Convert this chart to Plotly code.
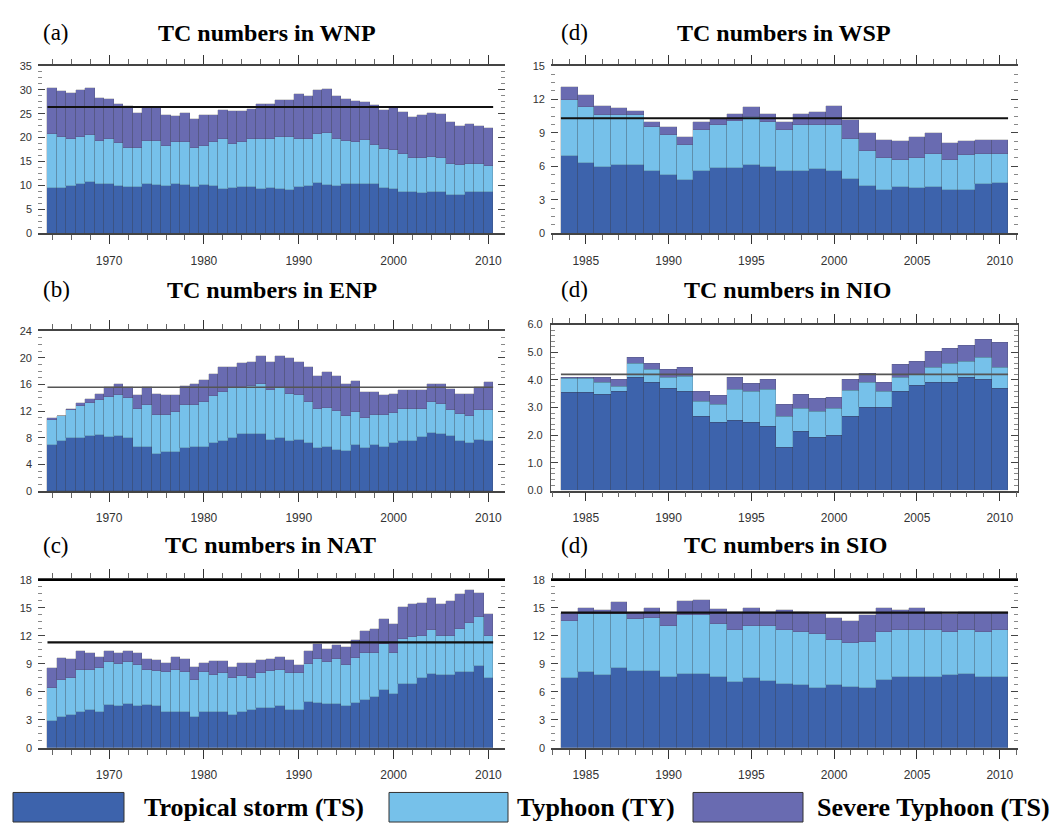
import plotly.graph_objects as go

# ---------------------------------------------------------------- data
years_long = list(range(1964, 2011))    # WNP, ENP, NAT
years_short = list(range(1984, 2011))   # WSP, NIO, SIO

# Western North Pacific
wnp_ts = [9.6, 9.6, 10.0, 10.4, 10.7, 10.3, 10.3, 10.0, 9.7, 9.8,
          10.3, 10.2, 10.0, 10.3, 10.1, 9.7, 10.2, 10.0, 9.3, 9.5,
          9.7, 9.8, 9.3, 9.5, 9.3, 9.2, 9.7, 10.0, 10.6, 10.2,
          10.0, 10.3, 10.3, 10.3, 10.3, 9.5, 9.4, 8.7, 8.7, 8.4,
          8.6, 8.6, 8.0, 8.0, 8.6, 8.6, 8.6]
wnp_ty = [11.3, 10.6, 9.8, 9.8, 9.9, 9.1, 9.5, 9.0, 8.1, 8.0,
          9.1, 9.2, 8.2, 8.9, 9.1, 8.1, 8.1, 9.2, 10.5, 9.2,
          9.5, 10.0, 10.5, 10.3, 10.9, 11.0, 10.1, 9.8, 10.1, 10.8,
          9.7, 9.1, 8.9, 9.2, 8.2, 8.1, 8.0, 7.9, 7.1, 7.4,
          7.3, 7.2, 6.6, 6.3, 6.0, 6.0, 5.6]
wnp_sty = [9.6, 9.6, 9.5, 9.8, 9.9, 9.0, 8.3, 8.0, 8.8, 7.4,
           7.0, 6.8, 6.6, 5.3, 6.0, 6.2, 6.5, 5.6, 6.1, 7.0,
           6.5, 6.3, 7.2, 7.2, 7.7, 7.7, 9.3, 9.0, 9.3, 9.3,
           9.1, 8.7, 8.4, 7.9, 8.3, 8.3, 8.8, 8.8, 8.5, 8.9,
           9.3, 9.2, 8.7, 8.1, 8.3, 7.8, 7.9]

# Eastern North Pacific
enp_ts = [6.9, 7.5, 8.0, 8.0, 8.2, 8.4, 8.1, 8.3, 7.9, 6.6,
          6.6, 5.5, 5.8, 5.9, 6.4, 6.6, 6.6, 7.2, 7.5, 8.0,
          8.5, 8.6, 8.6, 7.7, 8.0, 7.5, 7.7, 7.2, 6.5, 6.6,
          6.1, 6.0, 6.9, 6.5, 6.9, 6.6, 7.2, 7.5, 7.5, 8.1,
          8.7, 8.6, 8.2, 7.5, 7.2, 7.7, 7.5]
enp_ty = [3.8, 3.7, 4.1, 4.8, 5.0, 5.3, 6.0, 6.1, 6.0, 5.7,
          6.3, 5.9, 5.6, 5.9, 6.5, 6.3, 6.8, 7.0, 7.4, 7.4,
          7.0, 7.1, 7.4, 7.5, 7.5, 7.1, 6.7, 6.2, 5.8, 5.9,
          5.9, 5.3, 4.9, 4.4, 4.5, 4.8, 4.5, 4.8, 4.8, 4.2,
          4.6, 4.4, 3.9, 4.0, 4.1, 4.5, 4.7]
enp_sty = [0.2, 0.1, 0.2, 0.4, 0.6, 0.9, 1.5, 1.6, 1.7, 2.1,
           2.7, 3.2, 3.0, 2.6, 2.8, 3.1, 3.2, 3.4, 3.7, 3.2,
           3.7, 3.7, 4.2, 4.1, 4.7, 5.4, 4.9, 5.2, 5.0, 5.4,
           5.3, 4.7, 4.7, 4.0, 3.5, 3.0, 2.9, 2.8, 2.8, 2.8,
           2.7, 3.0, 3.2, 3.0, 3.3, 3.4, 4.1]

# North Atlantic
nat_ts = [2.9, 3.3, 3.5, 3.9, 4.1, 3.9, 4.6, 4.5, 4.7, 4.5,
          4.6, 4.5, 3.9, 3.9, 3.9, 3.3, 3.9, 3.8, 3.8, 3.5,
          3.9, 4.1, 4.3, 4.3, 4.5, 4.1, 4.1, 4.9, 4.8, 4.7,
          4.7, 4.5, 4.8, 5.1, 5.5, 6.2, 5.8, 6.9, 6.9, 7.5,
          7.9, 7.8, 7.8, 8.1, 8.1, 8.8, 7.5]
nat_ty = [3.5, 4.0, 4.0, 4.5, 4.3, 4.7, 4.6, 4.5, 4.5, 4.4,
          3.8, 3.7, 4.2, 4.5, 4.2, 4.0, 4.2, 4.0, 4.2, 4.0,
          3.8, 3.4, 3.7, 3.9, 3.9, 3.9, 3.9, 4.1, 4.7, 4.5,
          4.8, 4.4, 4.8, 5.1, 4.7, 4.9, 4.4, 4.8, 5.0, 4.5,
          4.7, 4.2, 4.2, 4.6, 5.3, 5.2, 4.5]
nat_sty = [2.2, 2.3, 2.0, 2.0, 1.8, 1.2, 1.2, 1.2, 1.2, 1.3,
           1.1, 1.2, 1.0, 1.4, 1.4, 1.4, 1.0, 1.5, 1.3, 1.2,
           1.4, 1.6, 1.4, 1.3, 1.4, 1.4, 0.9, 1.4, 1.6, 1.4,
           1.5, 1.9, 2.0, 2.3, 2.6, 2.7, 3.1, 3.4, 3.5, 3.5,
           3.5, 3.4, 3.7, 3.8, 3.5, 2.6, 2.4]

# Western South Pacific
wsp_ts = [6.9, 6.3, 6.0, 6.1, 6.1, 5.6, 5.2, 4.8, 5.6, 5.9,
          5.9, 6.1, 6.0, 5.6, 5.6, 5.8, 5.6, 4.9, 4.3, 3.9,
          4.2, 4.1, 4.2, 3.9, 3.9, 4.4, 4.5]
wsp_ty = [5.1, 5.0, 4.6, 4.5, 4.5, 3.9, 3.6, 3.1, 3.7, 3.8,
          4.2, 4.3, 4.0, 3.7, 4.1, 3.9, 4.1, 3.6, 3.1, 2.9,
          2.4, 2.7, 2.9, 2.7, 3.1, 2.7, 2.6]
wsp_sty = [1.1, 1.1, 0.8, 0.6, 0.4, 0.5, 0.7, 0.7, 0.7, 0.6,
           0.6, 0.9, 0.7, 0.7, 1.0, 1.2, 1.7, 1.7, 1.6, 1.6,
           1.7, 1.8, 1.9, 1.5, 1.3, 1.3, 1.3]

# North Indian Ocean
nio_ts = [3.54, 3.54, 3.47, 3.56, 4.10, 3.90, 3.68, 3.56, 2.67, 2.47,
          2.53, 2.47, 2.32, 1.57, 2.14, 1.92, 2.00, 2.67, 2.99, 2.99,
          3.56, 3.80, 3.90, 3.90, 4.10, 4.01, 3.68]
nio_ty = [0.50, 0.50, 0.45, 0.20, 0.50, 0.46, 0.39, 0.57, 0.54, 0.62,
          1.12, 1.09, 1.33, 1.10, 0.83, 0.95, 0.97, 0.95, 0.91, 0.57,
          0.54, 0.38, 0.55, 0.70, 0.56, 0.78, 0.77]
nio_sty = [0.06, 0.06, 0.18, 0.25, 0.19, 0.24, 0.32, 0.32, 0.35, 0.35,
           0.45, 0.32, 0.36, 0.45, 0.50, 0.46, 0.38, 0.39, 0.32, 0.34,
           0.47, 0.48, 0.56, 0.53, 0.59, 0.67, 0.89]

# South Indian Ocean
sio_ts = [7.5, 8.1, 7.8, 8.6, 8.3, 8.3, 7.6, 7.9, 7.9, 7.6,
          7.1, 7.5, 7.2, 6.8, 6.7, 6.4, 6.7, 6.5, 6.4, 7.3,
          7.6, 7.6, 7.6, 7.8, 7.9, 7.6, 7.6]
sio_ty = [6.1, 6.3, 6.6, 5.8, 5.5, 5.6, 5.5, 6.4, 6.4, 5.7,
          5.5, 5.6, 5.9, 5.8, 5.7, 5.8, 4.9, 4.8, 5.0, 5.1,
          5.0, 5.0, 5.0, 4.6, 4.7, 4.8, 5.0]
sio_sty = [0.9, 0.6, 0.4, 1.2, 0.7, 1.1, 1.3, 1.5, 1.6, 1.6,
           2.0, 1.9, 1.5, 2.2, 2.2, 2.2, 2.3, 2.3, 2.8, 2.6,
           2.2, 2.4, 2.0, 2.0, 2.0, 2.2, 2.0]

# climatological mean of the annual total, per basin
basin_mean = {"WNP": 26.4, "ENP": 15.6, "NAT": 11.3,
              "WSP": 10.3, "NIO": 4.2, "SIO": 14.5}

category_names = ["Tropical storm (TS)", "Typhoon (TY)", "Severe Typhoon (TS)"]

# ---------------------------------------------------------------- styling
W, H = 1056, 830
COLORS = ["#3D63AC", "#76C1EA", "#696BB1"]
SERIF = "Liberation Serif"
SANS = "Liberation Sans"

def px_x(p):
    return p / W

def px_y(p):
    return 1 - p / H

left_dom = [px_x(38), px_x(505)]
right_dom = [px_x(551), px_x(1018)]

panels = [
    dict(tag="(a)", basin="WNP", years=years_long, data=(wnp_ts, wnp_ty, wnp_sty),
         xdom=left_dom, ydom=[px_y(230.7), px_y(60.7)], yr=[0, 35], dy=5, mdy=1.25,
         fmt="d", top="gray", mean_col="#111111", mean_w=2.2,
         title_x=267, title_y=27, tag_x=56),
    dict(tag="(d)", basin="WSP", years=years_short, data=(wsp_ts, wsp_ty, wsp_sty),
         xdom=right_dom, ydom=[px_y(230.7), px_y(60.7)], yr=[0, 15], dy=3, mdy=0.75,
         fmt="d", top="gray", mean_col="#111111", mean_w=2.0,
         title_x=784, title_y=27, tag_x=574),
    dict(tag="(b)", basin="ENP", years=years_long, data=(enp_ts, enp_ty, enp_sty),
         xdom=left_dom, ydom=[px_y(492.3), px_y(330)], yr=[0, 24], dy=4, mdy=1,
         fmt="d", top=None, mean_col="#555555", mean_w=1.6,
         title_x=272, title_y=288, tag_x=56),
    dict(tag="(d)", basin="NIO", years=years_short, data=(nio_ts, nio_ty, nio_sty),
         xdom=right_dom, ydom=[px_y(491.7), px_y(323.3)], yr=[0, 6], dy=1, mdy=0.2,
         fmt=".1f", top=None, mean_col="#555555", mean_w=1.6,
         title_x=787, title_y=288, tag_x=574),
    dict(tag="(c)", basin="NAT", years=years_long, data=(nat_ts, nat_ty, nat_sty),
         xdom=left_dom, ydom=[px_y(752.7), px_y(582.3)], yr=[0, 18], dy=3, mdy=0.75,
         fmt="d", top="black", mean_col="#111111", mean_w=2.2,
         title_x=270, title_y=547, tag_x=56),
    dict(tag="(d)", basin="SIO", years=years_short, data=(sio_ts, sio_ty, sio_sty),
         xdom=right_dom, ydom=[px_y(752.7), px_y(582.3)], yr=[0, 18], dy=3, mdy=0.75,
         fmt="d", top="black", mean_col="#111111", mean_w=2.2,
         title_x=785, title_y=547, tag_x=574),
]

fig = go.Figure()
layout = dict(
    width=W, height=H, margin=dict(l=0, r=0, t=0, b=0),
    paper_bgcolor="white", plot_bgcolor="white",
    barmode="stack", bargap=0, showlegend=False,
    annotations=[], shapes=[],
)

for i, p in enumerate(panels, start=1):
    xa = "x" if i == 1 else f"x{i}"
    ya = "y" if i == 1 else f"y{i}"
    yrs = p["years"]
    for vals, col, name in zip(p["data"], COLORS, category_names):
        fig.add_trace(go.Bar(
            x=yrs, y=vals, name=name, xaxis=xa, yaxis=ya, width=1,
            marker=dict(color=col, line=dict(width=0.6, color="rgba(55,55,60,0.33)")),
            showlegend=False,
        ))
    # basin mean across the bar span
    m = basin_mean[p["basin"]]
    fig.add_trace(go.Scatter(
        x=[yrs[0] - 0.5, yrs[-1] + 0.5], y=[m, m], mode="lines",
        line=dict(color=p["mean_col"], width=p["mean_w"]),
        xaxis=xa, yaxis=ya, showlegend=False, hoverinfo="skip",
    ))

    long = yrs[0] < 1980
    xr = [1962.5, 2011.75] if long else [1982.9, 2011.1]
    xticks = [1970, 1980, 1990, 2000, 2010] if long else [1985, 1990, 1995, 2000, 2005, 2010]
    xkey = "xaxis" if i == 1 else f"xaxis{i}"
    ykey = "yaxis" if i == 1 else f"yaxis{i}"
    layout[xkey] = dict(
        domain=p["xdom"], anchor=ya, range=xr, tickvals=xticks,
        ticks="outside", ticklen=9, tickwidth=1.3, tickcolor="#333333",
        minor=dict(dtick=2 if long else 1, tick0=1964 if long else 1984,
                   ticks="outside", ticklen=5, tickcolor="#666666", tickwidth=1),
        showline=True, linecolor="#444444", linewidth=1.5,
        mirror=("allticks" if p["top"] == "gray" else "ticks"),
        showgrid=False, zeroline=False,
        tickfont=dict(family=SANS, size=12, color="#333333"),
        ticklabelstandoff=6,
    )
    layout[ykey] = dict(
        domain=p["ydom"], anchor=xa, range=p["yr"], dtick=p["dy"], tick0=0,
        tickformat=p["fmt"], ticks="inside", ticklen=7, tickwidth=1.2,
        tickcolor="#444444", mirror="ticks",
        minor=dict(dtick=p["mdy"], ticks="inside", ticklen=4, tickcolor="#888888"),
        showline=(p["basin"] == "NIO"), linecolor="#555555", linewidth=1.2,
        showgrid=False, zeroline=False,
        tickfont=dict(family=SANS, size=11, color="#333333"),
        ticklabelstandoff=5,
    )
    if p["top"] == "black":
        layout["shapes"].append(dict(
            type="line", xref=f"{xa} domain", yref=f"{ya} domain",
            x0=0, x1=1, y0=1, y1=1, line=dict(color="black", width=2),
        ))

    layout["annotations"].append(dict(
        text=f"<b>TC numbers in {p['basin']}</b>", xref="paper", yref="paper",
        x=px_x(p["title_x"]), y=px_y(p["title_y"]), xanchor="center", yanchor="middle",
        showarrow=False, font=dict(family=SERIF, size=24, color="black"),
    ))
    layout["annotations"].append(dict(
        text=p["tag"], xref="paper", yref="paper",
        x=px_x(p["tag_x"]), y=px_y(p["title_y"]), xanchor="center", yanchor="middle",
        showarrow=False, font=dict(family=SERIF, size=23, color="black"),
    ))

# legend row: colour swatches with labels
legend_boxes = [(13, 124, 142), (389, 508, 515), (693, 803, 815)]
for (x0, x1, tx), col, name in zip(legend_boxes, COLORS, category_names):
    layout["shapes"].append(dict(
        type="rect", xref="paper", yref="paper",
        x0=px_x(x0), x1=px_x(x1), y0=px_y(828), y1=px_y(798),
        fillcolor=col, line=dict(color="#333333", width=1),
    ))
    layout["annotations"].append(dict(
        text=f"<b>{name}</b>", xref="paper", yref="paper",
        x=px_x(tx), y=px_y(813), xanchor="left", yanchor="middle",
        showarrow=False, font=dict(family=SERIF, size=26, color="black"),
    ))

fig.update_layout(**layout)
fig.write_html("out.html")
